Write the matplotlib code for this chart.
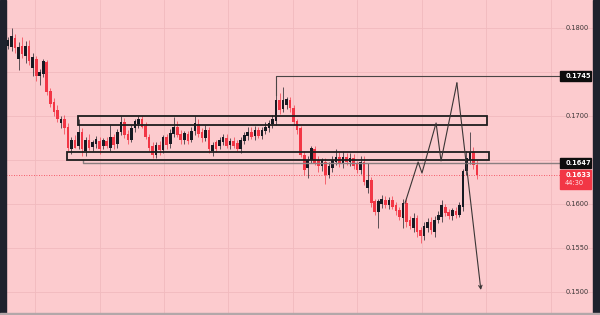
import numpy as np
import matplotlib.pyplot as plt
from matplotlib.patches import Rectangle

# candles, prices in units of 0.0001
opens = np.array([
    1780, 1778, 1789, 1765, 1779, 1768, 1780, 1755, 1765, 1745, 1748, 1761, 1728, 1716, 1707, 1692, 1697, 1688,
    1662, 1673, 1666, 1682, 1660, 1673, 1665, 1668, 1672, 1666, 1672, 1664, 1676, 1668, 1682, 1693, 1680, 1673,
    1686, 1691, 1697, 1689, 1676, 1666, 1656, 1667, 1661, 1676, 1668, 1680, 1688, 1680, 1673, 1680, 1673, 1683,
    1691, 1682, 1675, 1684, 1660, 1670, 1666, 1670, 1675, 1667, 1672, 1669, 1662, 1672, 1677, 1682, 1677, 1684,
    1677, 1683, 1686, 1691, 1694, 1718, 1708, 1713, 1718, 1709, 1694, 1686, 1656, 1641, 1650, 1662, 1650, 1643,
    1648, 1633, 1641, 1648, 1653, 1646, 1653, 1648, 1652, 1645, 1639, 1648, 1618, 1627, 1603, 1591, 1600, 1605,
    1599, 1605, 1599, 1593, 1584, 1601, 1582, 1573, 1584, 1570, 1564, 1573, 1580, 1568, 1582, 1585, 1597, 1591,
    1586, 1592, 1588, 1596, 1637, 1650, 1659, 1644]) / 10000
highs = np.array([
    1790, 1800, 1793, 1784, 1790, 1785, 1786, 1772, 1768, 1753, 1765, 1764, 1732, 1720, 1712, 1700, 1701, 1692,
    1676, 1678, 1696, 1686, 1676, 1679, 1673, 1677, 1676, 1675, 1676, 1690, 1680, 1685, 1700, 1698, 1684, 1690,
    1697, 1700, 1700, 1693, 1680, 1670, 1670, 1672, 1678, 1680, 1685, 1699, 1694, 1684, 1683, 1683, 1688, 1700,
    1697, 1686, 1690, 1688, 1670, 1673, 1676, 1679, 1679, 1675, 1676, 1673, 1676, 1682, 1688, 1688, 1689, 1688,
    1688, 1693, 1695, 1701, 1724, 1726, 1733, 1722, 1722, 1713, 1697, 1689, 1660, 1655, 1666, 1666, 1654, 1652,
    1652, 1648, 1654, 1662, 1659, 1660, 1658, 1658, 1657, 1649, 1655, 1654, 1647, 1631, 1606, 1606, 1610, 1609,
    1608, 1609, 1602, 1597, 1606, 1606, 1586, 1590, 1588, 1574, 1580, 1584, 1585, 1586, 1592, 1605, 1600, 1594,
    1595, 1596, 1602, 1640, 1660, 1682, 1665, 1650]) / 10000
lows = np.array([
    1776, 1774, 1772, 1752, 1766, 1760, 1758, 1745, 1740, 1735, 1744, 1724, 1710, 1700, 1693, 1686, 1680, 1660,
    1657, 1664, 1662, 1654, 1655, 1661, 1660, 1664, 1657, 1662, 1664, 1660, 1663, 1664, 1678, 1675, 1668, 1670,
    1682, 1686, 1686, 1674, 1660, 1652, 1652, 1656, 1658, 1662, 1664, 1676, 1676, 1668, 1668, 1668, 1670, 1678,
    1676, 1670, 1672, 1658, 1654, 1659, 1662, 1667, 1664, 1663, 1664, 1660, 1658, 1668, 1673, 1674, 1673, 1675,
    1674, 1679, 1682, 1686, 1690, 1702, 1704, 1708, 1705, 1690, 1680, 1653, 1633, 1630, 1646, 1644, 1636, 1638,
    1623, 1629, 1636, 1644, 1642, 1641, 1644, 1643, 1640, 1635, 1634, 1621, 1612, 1596, 1587, 1573, 1595, 1595,
    1594, 1594, 1588, 1582, 1573, 1574, 1571, 1568, 1563, 1556, 1559, 1568, 1566, 1563, 1578, 1580, 1586, 1583,
    1582, 1584, 1585, 1592, 1633, 1645, 1640, 1628]) / 10000
closes = np.array([
    1786, 1791, 1777, 1778, 1770, 1780, 1763, 1767, 1746, 1750, 1762, 1727, 1714, 1705, 1697, 1697, 1686, 1664,
    1673, 1664, 1682, 1662, 1673, 1664, 1670, 1674, 1662, 1673, 1666, 1676, 1667, 1682, 1693, 1678, 1673, 1686,
    1694, 1697, 1688, 1676, 1664, 1656, 1667, 1661, 1676, 1667, 1681, 1688, 1678, 1673, 1681, 1672, 1683, 1692,
    1680, 1675, 1684, 1662, 1667, 1662, 1673, 1676, 1666, 1672, 1666, 1663, 1673, 1678, 1682, 1676, 1684, 1677,
    1684, 1688, 1692, 1696, 1718, 1707, 1718, 1719, 1709, 1693, 1684, 1656, 1639, 1650, 1664, 1647, 1643, 1650,
    1633, 1643, 1650, 1653, 1646, 1653, 1648, 1652, 1643, 1639, 1648, 1625, 1627, 1601, 1591, 1603, 1606, 1599,
    1605, 1597, 1592, 1585, 1601, 1580, 1575, 1584, 1568, 1564, 1575, 1580, 1570, 1582, 1588, 1599, 1590, 1586,
    1593, 1588, 1599, 1637, 1652, 1659, 1644, 1633]) / 10000

price_ticks = [0.1800, 0.1750, 0.1700, 0.1650, 0.1600, 0.1550, 0.1500]
level_high = 0.1745      # horizontal ray from the spike candle
level_mid = 0.1647       # horizontal ray under the range
last_price = 0.1633
countdown = '44:30'

# drawn zones (left index, right index, bottom, top)
zone_upper = (19.85, 135.85, 0.16898, 0.16995)
zone_lower = (16.7, 136.4, 0.16500, 0.16591)

# projected path (candle index, price)
proj_x = [112.6, 116.3, 117.4, 121.4, 122.8, 127.3, 134.1]
proj_y = [0.16011, 0.16477, 0.16352, 0.16920, 0.16489, 0.17375, 0.15023]

bg = '#fccbce'
bull = '#161a22'
bear = '#f23645'

fig = plt.figure(figsize=(6, 3.15), dpi=100)
fig.patch.set_facecolor(bg)
ax = fig.add_axes([6 / 600, 2 / 315, 587 / 600, 313 / 315])
ax.set_facecolor(bg)
ax.set_xlim(-0.57, 165.9)
ax.set_ylim(0.14761, 0.18318)
ax.axis('off')

axis_edge = 156.5   # start of price scale, in candle index units
label_x = 158.0

# grid
for p in price_ticks:
    ax.axhline(p, color='#f1babe', lw=0.6, zorder=0)
for k in range(9):
    ax.axvline(7.7 + 18.27 * k, color='#f1babe', lw=0.6, zorder=0)

# candles
idx = np.arange(len(closes))
for i in idx:
    o, h, l, c = opens[i], highs[i], lows[i], closes[i]
    col = bull if c >= o else bear
    ax.vlines(i, l, h, color=col, lw=0.7, alpha=0.7, zorder=2)
    body = max(abs(c - o), 0.00004)
    ax.bar(i, body, bottom=min(o, c), width=0.74, color=col, lw=0, zorder=3)

# zones
for x0, x1, y0, y1 in (zone_upper, zone_lower):
    ax.add_patch(Rectangle((x0, y0), x1 - x0, y1 - y0, fill=False,
                           ec='#1e1e1e', lw=1.3, zorder=5))

# horizontal rays
ax.plot([76, 76, axis_edge], [highs[76], level_high, level_high],
        color='#4a4545', lw=0.8, zorder=4)
ax.plot([21.3, 21.3, axis_edge], [zone_lower[2], level_mid, level_mid],
        color='#8a7e80', lw=1.0, zorder=4)
ax.hlines(last_price, -0.57, axis_edge, color=bear, lw=0.6,
          linestyles=(0, (1, 2)), zorder=1)

# projection
ax.plot(proj_x[:-1], proj_y[:-1], color='#3a3535', lw=0.8, zorder=6)
ax.annotate('', xy=(proj_x[-1], proj_y[-1]), xytext=(proj_x[-2], proj_y[-2]),
            arrowprops=dict(arrowstyle='->', color='#3a3535', lw=0.8,
                            shrinkA=0, shrinkB=0, mutation_scale=6), zorder=6)

# price scale (ticks hidden behind the level labels are skipped)
px = 0.00011364  # price per pixel
for p in price_ticks:
    if min(abs(p - level_high), abs(p - level_mid)) < 8 * px:
        continue
    ax.text(label_x, p, f'{p:.4f}', fontsize=4.8, color='#3c3838',
            ha='left', va='center', zorder=7)

for lvl in (level_high, level_mid):
    ax.add_patch(Rectangle((axis_edge, lvl - 5 * px), 8.8, 10 * px,
                           color='#0d0d0d', zorder=8))
    ax.text(label_x, lvl, f'{lvl:.4f}', fontsize=4.8, color='white',
            fontweight='bold', ha='left', va='center', zorder=9)

ax.add_patch(Rectangle((axis_edge, last_price - 14 * px), 8.8, 19 * px,
                       color=bear, zorder=8))
ax.text(label_x, last_price, f'{last_price:.4f}', fontsize=4.8, color='white',
        fontweight='bold', ha='left', va='center', zorder=9)
ax.text(label_x, last_price - 8.5 * px, countdown, fontsize=4.8, color='#ffe0e3',
        ha='left', va='center', zorder=9)

# dark frame strips
fig.add_artist(Rectangle((0, 0), 6 / 600, 1, transform=fig.transFigure, color='#1e222d'))
fig.add_artist(Rectangle((593 / 600, 0), 7 / 600, 1, transform=fig.transFigure, color='#1e222d'))
fig.add_artist(Rectangle((0, 0), 1, 2 / 315, transform=fig.transFigure, color='#b3a7a9'))

fig.savefig('out.png', dpi=100, facecolor=bg)
